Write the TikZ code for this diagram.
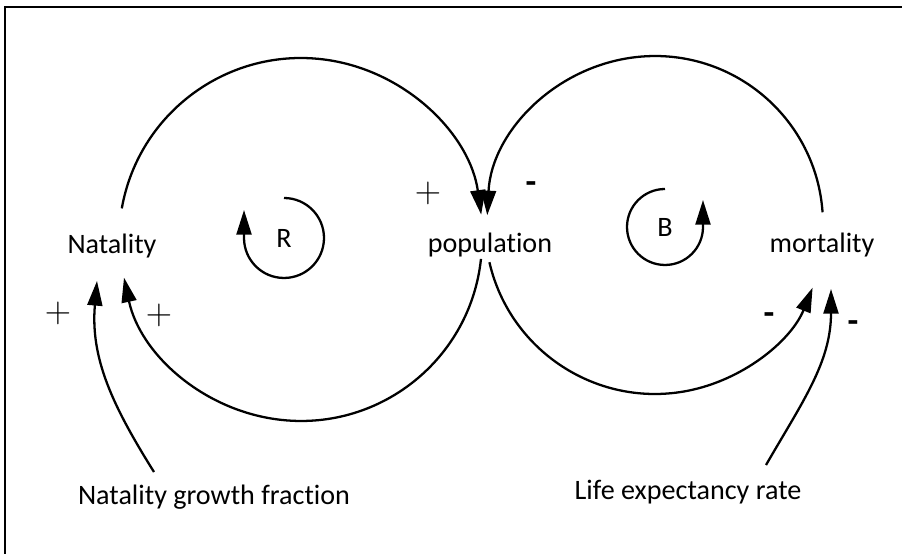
\documentclass[tikz,border=0pt]{standalone}
\usepackage{fontspec}
\setmainfont[Ligatures=NoCommon]{Carlito}
\usetikzlibrary{arrows.meta, calc}

\begin{document}
\begin{tikzpicture}[x=0.02cm, y=0.02cm,
    every node/.style={font=\fontsize{16}{19}\selectfont, inner sep=1pt},
    link/.style={line width=1.3pt, -{Triangle[length=14pt, width=8.5pt]}},
    sign/.style={font=\fontsize{22}{24}\selectfont},
    dashsign/.style={font=\fontsize{20}{22}\selectfont\bfseries}]
    \useasboundingbox (0,0) rectangle (902,554);
    \draw[line width=1pt] (5,0) -- (5,547) -- (902,547);

    % variables
    \node (nat) at (112,308) {Natality};
    \node (pop) at (490,309) {population};
    \node (mort) at (822,309) {mortality};
    \node (ngf) at (214,57) {Natality growth fraction};
    \node (ler) at (688,62) {Life expectancy rate};
    \node (R) at (284,316) {R};
    \node (B) at (665,327) {B};

    % loop centres and arc ends
    \coordinate (cL) at (301,314);
    \coordinate (cR) at (655,330);
    \coordinate (natTop) at ($(cL)+(170:3.64cm)$);
    \coordinate (popBotL) at ($(cL)+(-6:3.62cm)$);
    \coordinate (mortTop) at ($(cR)+(4:3.36cm)$);
    \coordinate (popBotR) at ($(cR)+(-167:3.4cm)$);
    \coordinate (ngfTail) at (154,82);
    \coordinate (lerTail) at (766,89);

    % reinforcing loop
    \draw[link] (natTop) arc[start angle=170, end angle=8, radius=3.64cm];
    \draw[link] (popBotL) arc[start angle=-6, end angle=-168, radius=3.62cm];
    % balancing loop
    \draw[link] (mortTop) arc[start angle=4, end angle=177, radius=3.36cm];
    \draw[link] (popBotR) arc[start angle=-167, end angle=-22, radius=3.4cm];
    % inputs
    \draw[link] (ngfTail) to[out=122, in=-95] (97,273);
    \draw[link] (lerTail) to[out=60, in=-90] (831,265);

    % loop markers
    \draw[link] ($(R)+(0,40)$) arc[start angle=90, end angle=-180, radius=0.8cm] -- ++(0,28);
    \draw[link] ($(B)+(0,38)$) arc[start angle=90, end angle=360, radius=0.76cm] -- ++(0,27);

    % polarities
    \node[sign] at (428,361) {$+$};
    \node[dashsign] at (531,366) {-};
    \node[sign] at (58,241) {$+$};
    \node[sign] at (159,239) {$+$};
    \node[dashsign] at (769,235) {-};
    \node[dashsign] at (853,227) {-};
\end{tikzpicture}
\end{document}
